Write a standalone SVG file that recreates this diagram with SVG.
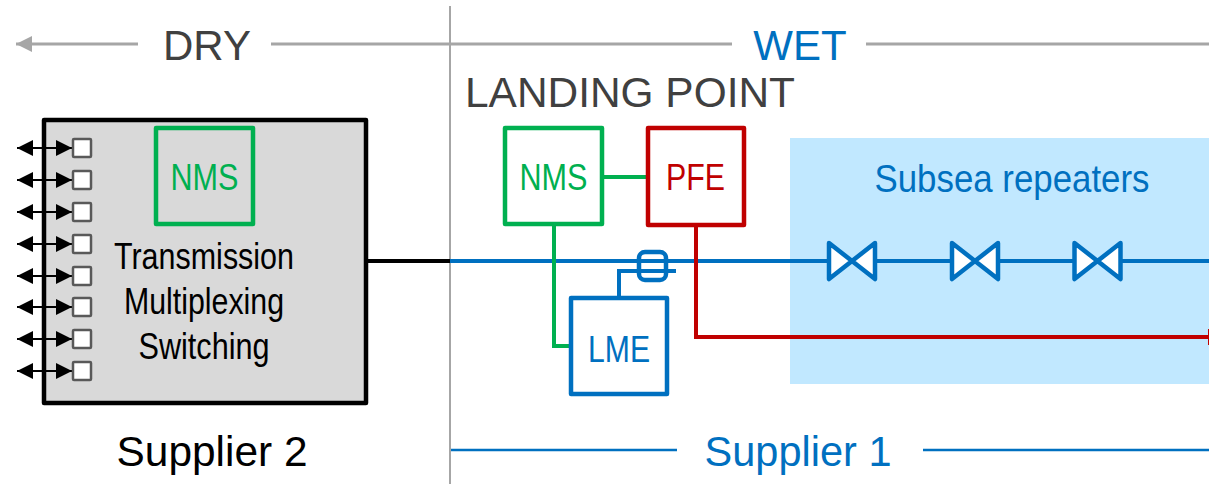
<svg xmlns="http://www.w3.org/2000/svg" width="1209" height="484" viewBox="0 0 1209 484">
<style>
text{font-family:"Liberation Sans",Arial,sans-serif}
.box{stroke-width:4.500;stroke-linejoin:round}
.g{stroke:#00b050}.r{stroke:#c00000}.b{stroke:#0070c0}
.gt{fill:#00b050}.rt{fill:#c00000}.bt{fill:#0070c0}
.dk{fill:#404040}
.port{fill:#fff;stroke:#595959;stroke-width:2.500}
.lnk{stroke:#000;stroke-width:2;fill:none;marker-start:url(#ah);marker-end:url(#ah)}
.rep{fill:#fff;stroke:#0070c0;stroke-width:4.500;stroke-linejoin:round}
</style>
<defs>
<marker id="ah" markerUnits="userSpaceOnUse" markerWidth="16" markerHeight="16" refX="16" refY="8" orient="auto-start-reverse"><path d="M0 0L16 8L0 16Z" fill="#000"/></marker>
<marker id="ga" markerUnits="userSpaceOnUse" markerWidth="16" markerHeight="16" refX="16" refY="8" orient="auto"><path d="M0 0L16 8L0 16Z" fill="#a6a6a6"/></marker>
</defs>
<rect id="subsea-zone" x="790" y="138" width="419" height="246" fill="#c1e8ff"/>
<g id="connectors" fill="none">
<path d="M450 6V484" stroke="#a6a6a6" stroke-width="2"/>
<path d="M138 44H16" stroke="#a6a6a6" stroke-width="3" marker-end="url(#ga)"/>
<path d="M271 44H732M866 44H1209" stroke="#a6a6a6" stroke-width="3"/>
<path d="M451 450H677M923 450H1209" stroke="#0070c0" stroke-width="2.500"/>
<path d="M366 261H450" stroke="#000" stroke-width="4"/>
<path d="M450 261H1209" stroke="#0070c0" stroke-width="4"/>
<path d="M602 177H648M554 224V346H571" class="g" stroke-width="4"/>
<path d="M696 225V337H1209" class="r" stroke-width="4"/>
<path d="M1209 329V345" class="r" stroke-width="2"/>
<path d="M619 298V271H676" class="b" stroke-width="4"/>
<rect x="639" y="252" width="27" height="28" rx="6" class="b" stroke-width="4.500"/>
</g>
<text x="207" y="60" font-size="42" text-anchor="middle" class="dk">DRY</text>
<text x="800" y="60" font-size="42" text-anchor="middle" class="bt">WET</text>
<text id="landing-point" x="465" y="107" font-size="42" textLength="330" lengthAdjust="spacingAndGlyphs" class="dk">LANDING POINT</text>
<g id="supplier2-box">
<rect x="44" y="120" width="322" height="283" fill="#d9d9d9" stroke="#000" class="box"/>
<text x="204" y="269" font-size="37" text-anchor="middle" textLength="180" lengthAdjust="spacingAndGlyphs">Transmission</text>
<text x="204" y="314" font-size="37" text-anchor="middle" textLength="160" lengthAdjust="spacingAndGlyphs">Multiplexing</text>
<text x="204" y="359" font-size="37" text-anchor="middle" textLength="131" lengthAdjust="spacingAndGlyphs">Switching</text>
</g>
<g id="port-links" class="lnk">
<path d="M17 148H72"/><path d="M17 180H72"/><path d="M17 212H72"/><path d="M17 244H72"/><path d="M17 276H72"/><path d="M17 307H72"/><path d="M17 339H72"/><path d="M17 371H72"/>
</g>
<g id="ports">
<rect class="port" x="73" y="139" width="18" height="18" rx="1"/>
<rect class="port" x="73" y="171" width="18" height="18" rx="1"/>
<rect class="port" x="73" y="203" width="18" height="18" rx="1"/>
<rect class="port" x="73" y="235" width="18" height="18" rx="1"/>
<rect class="port" x="73" y="267" width="18" height="18" rx="1"/>
<rect class="port" x="73" y="298" width="18" height="18" rx="1"/>
<rect class="port" x="73" y="330" width="18" height="18" rx="1"/>
<rect class="port" x="73" y="362" width="18" height="18" rx="1"/>
</g>
<g id="nms-dry"><rect x="156" y="128" width="97" height="96" fill="none" class="box g"/><text x="204.500" y="190" font-size="37" text-anchor="middle" textLength="68" lengthAdjust="spacingAndGlyphs" class="gt">NMS</text></g>
<g id="nms-wet"><rect x="505" y="128" width="97" height="96" fill="#fff" class="box g"/><text x="553.500" y="190" font-size="37" text-anchor="middle" textLength="68" lengthAdjust="spacingAndGlyphs" class="gt">NMS</text></g>
<g id="pfe"><rect x="648" y="128" width="96" height="97" fill="#fff" class="box r"/><text x="695.500" y="190" font-size="37" text-anchor="middle" textLength="59" lengthAdjust="spacingAndGlyphs" class="rt">PFE</text></g>
<g id="lme"><rect x="571" y="298" width="96" height="96" fill="#fff" class="box b"/><text x="619" y="362" font-size="37" text-anchor="middle" textLength="62" lengthAdjust="spacingAndGlyphs" class="bt">LME</text></g>
<text id="subsea-label" x="1012" y="192" font-size="39" text-anchor="middle" textLength="275" lengthAdjust="spacingAndGlyphs" class="bt">Subsea repeaters</text>
<g id="repeater-1"><path class="rep" d="M829 243L875 279V243L829 279Z"/></g>
<g id="repeater-2"><path class="rep" d="M952 243L998 279V243L952 279Z"/></g>
<g id="repeater-3"><path class="rep" d="M1074.500 243L1120.500 279V243L1074.500 279Z"/></g>
<text id="supplier-2" x="212" y="466" font-size="42" text-anchor="middle" textLength="191" lengthAdjust="spacingAndGlyphs">Supplier 2</text>
<text id="supplier-1" x="798" y="466" font-size="42" text-anchor="middle" textLength="187" lengthAdjust="spacingAndGlyphs" class="bt">Supplier 1</text>
</svg>
